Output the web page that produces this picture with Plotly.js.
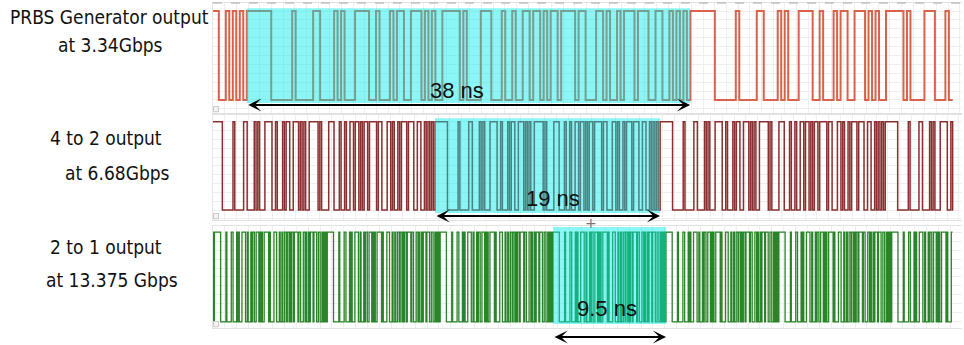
<!DOCTYPE html>
<html>
<head>
<meta charset="utf-8">
<script src="https://cdn.plot.ly/plotly-3.0.1.min.js"></script>
<style>
  html, body { margin: 0; padding: 0; background: #ffffff; }
  #chart { width: 964px; height: 345px; }
</style>
</head>
<body>
<div id="chart"></div>
<script>
// One period of the PRBS7 bit pattern (127 bits) shown on every trace
const PRBS7_PATTERN = [
  1,1,1,1,1,1,1,0,0,0, 0,0,0,1,0,0,0,0,0,1, 1,0,0,0,0,1,0,1,0,0,
  0,1,1,1,1,0,0,1,0,0, 0,1,0,1,1,0,0,1,1,1, 0,1,0,1,0,0,1,1,1,1,
  1,0,1,0,0,0,0,1,1,1, 0,0,0,1,0,0,1,0,0,1, 1,0,1,1,0,1,0,1,1,0,
  1,1,1,1,0,1,1,0,0,0, 1,1,0,1,0,0,1,0,1,1, 1,0,1,1,1,0,0,1,1,0,
  0,1,0,1,0,1,0
];

// Per-trace data
const STAGE_NAMES   = ['PRBS Generator output', '4 to 2 output', '2 to 1 output'];
const RATE_LABELS   = ['at 3.34Gbps', 'at 6.68Gbps', 'at 13.375 Gbps'];
const RATE_GBPS     = [3.34, 6.68, 13.375];
const PERIOD_NS     = [38, 19, 9.5];          // one full pattern period
const WINDOW_START_NS = [2.89, 18.75, 28.6];  // where the marked period begins
const RECORD_END_NS = [63.4, 62.5, 62.2];     // end of captured record
const VIEW_END_NS   = [64.2, 63.26, 63.0];    // visible time span

const LINE_COLORS = ['#d9634a', '#8a2f2f', '#2a842a'];
const LINE_WIDTHS = [2, 1.5, 1.3];

// Layout geometry (paper fractions)
const X_DOMAIN = [0.221, 0.998];
const Y_DOMAINS = [[0.6725, 0.9913], [0.3623, 0.6667], [0.0493, 0.3449]];
const Y_RANGES = [[-0.146, 1.09], [-0.113, 1.076], [-0.067, 1.067]];
const HILITE_Y = [[-0.034, 1.03], [-0.034, 1.04], [-0.022, 1.055]];
const ARROW_Y_PAPER = [0.6957, 0.3739, 0.0232];
const SPAN_LABEL_Y = [0.739, 0.426, 0.107];
const SPAN_LABEL_SHIFT = [-11, 5, -3];

function buildWave(p) {
  const T = 1 / RATE_GBPS[p];
  const start = WINDOW_START_NS[p];
  const end = RECORD_END_NS[p];
  const n = PRBS7_PATTERN.length;
  const xs = [], ys = [];
  const kFirst = Math.floor((0 - start) / T);
  const kLast = Math.ceil((end - start) / T);
  for (let k = kFirst; k <= kLast; k++) {
    const t = Math.max(0, start + k * T);
    if (t >= end) break;
    xs.push(t);
    ys.push(PRBS7_PATTERN[((k % n) + n) % n]);
  }
  xs.push(end);
  ys.push(ys[ys.length - 1]);
  return { xs, ys };
}

const traces = [];
const shapes = [];
const annotations = [];
const layout = {
  width: 964, height: 345,
  margin: { l: 0, r: 0, t: 0, b: 0 },
  paper_bgcolor: '#ffffff', plot_bgcolor: '#ffffff',
  showlegend: false,
  shapes, annotations
};

const labelFont = { family: 'DejaVu Sans Condensed, DejaVu Sans, sans-serif', size: 19, color: '#111111' };
const spanFont = { family: 'Liberation Sans, Arial, sans-serif', size: 22, color: '#111111' };

// left-hand label positions (paper)
const NAME_POS = [[0.1141, 0.9507], [0.110, 0.600], [0.110, 0.2841]];
const RATE_POS = [[0.1151, 0.8696], [0.1219, 0.4986], [0.1167, 0.1884]];

for (let p = 0; p < 3; p++) {
  const sfx = p === 0 ? '' : String(p + 1);
  const xa = 'x' + sfx, ya = 'y' + sfx;
  const w = buildWave(p);
  traces.push({
    type: 'scatter', mode: 'lines',
    x: w.xs, y: w.ys,
    xaxis: xa, yaxis: ya,
    line: { shape: 'hv', color: LINE_COLORS[p], width: LINE_WIDTHS[p] },
    hoverinfo: 'skip'
  });

  layout['xaxis' + sfx] = {
    domain: X_DOMAIN, anchor: ya, range: [0, VIEW_END_NS[p]],
    showticklabels: false, ticks: '', zeroline: false,
    showgrid: true, gridcolor: '#efefef', gridwidth: 1, dtick: 1, tick0: 0,
    showline: true, linecolor: '#e2e2e2', linewidth: 1, mirror: true
  };
  layout['yaxis' + sfx] = {
    domain: Y_DOMAINS[p], anchor: xa, range: Y_RANGES[p],
    showticklabels: false, ticks: '', zeroline: false,
    showgrid: true, gridcolor: '#efefef', gridwidth: 1, dtick: 0.1, tick0: 0,
    showline: true, linecolor: '#e6e6e6', linewidth: 1
  };

  const ws = WINDOW_START_NS[p];
  const we = ws + PERIOD_NS[p];

  // highlighted pattern period
  shapes.push({
    type: 'rect', xref: xa, yref: ya, layer: 'above',
    x0: ws, x1: we, y0: HILITE_Y[p][0], y1: HILITE_Y[p][1],
    fillcolor: 'rgba(0,232,232,0.45)', line: { width: 0 }
  });

  // small corner marker of the scope window
  const yb = Y_DOMAINS[p][0];
  shapes.push({
    type: 'rect', xref: 'paper', yref: 'paper',
    x0: X_DOMAIN[0] + 0.0005, x1: X_DOMAIN[0] + 0.0057,
    y0: yb + 0.0035 , y1: yb + 0.019,
    fillcolor: '#f4f4f4', line: { color: '#c8c8c8', width: 1 }
  });

  // double-headed span arrow
  annotations.push({
    xref: xa, yref: 'paper', axref: xa, ayref: 'pixel',
    x: we, y: ARROW_Y_PAPER[p], ax: ws, ay: 0,
    text: '', showarrow: true,
    arrowside: 'end+start', arrowhead: 3, startarrowhead: 3,
    arrowsize: 1.1, startarrowsize: 1.1, arrowwidth: 2, arrowcolor: '#000000',
    standoff: 0, startstandoff: 0
  });
  annotations.push({
    xref: xa, yref: 'paper', x: (ws + we) / 2, y: SPAN_LABEL_Y[p],
    xshift: SPAN_LABEL_SHIFT[p],
    text: PERIOD_NS[p] + ' ns', showarrow: false,
    xanchor: 'center', yanchor: 'middle', font: spanFont
  });

  annotations.push({
    xref: 'paper', yref: 'paper', x: NAME_POS[p][0], y: NAME_POS[p][1],
    text: STAGE_NAMES[p], showarrow: false, xanchor: 'center', yanchor: 'middle', font: labelFont
  });
  annotations.push({
    xref: 'paper', yref: 'paper', x: RATE_POS[p][0], y: RATE_POS[p][1],
    text: RATE_LABELS[p], showarrow: false, xanchor: 'center', yanchor: 'middle', font: labelFont
  });
}

// dashed top border of the first trace window
shapes.push({
  type: 'line', xref: 'paper', yref: 'paper',
  x0: X_DOMAIN[0], x1: X_DOMAIN[1], y0: Y_DOMAINS[0][1], y1: Y_DOMAINS[0][1],
  line: { color: '#a8a8a8', width: 1, dash: 'dash' }
});

// cursor mark
annotations.push({
  xref: 'paper', yref: 'paper', x: 591 / 964, y: 1 - 223 / 345,
  text: '+', showarrow: false, xanchor: 'center', yanchor: 'middle',
  font: { family: 'DejaVu Sans, sans-serif', size: 14, color: '#777777' }
});

Plotly.newPlot('chart', traces, layout, { staticPlot: true, displayModeBar: false });
</script>
</body>
</html>
